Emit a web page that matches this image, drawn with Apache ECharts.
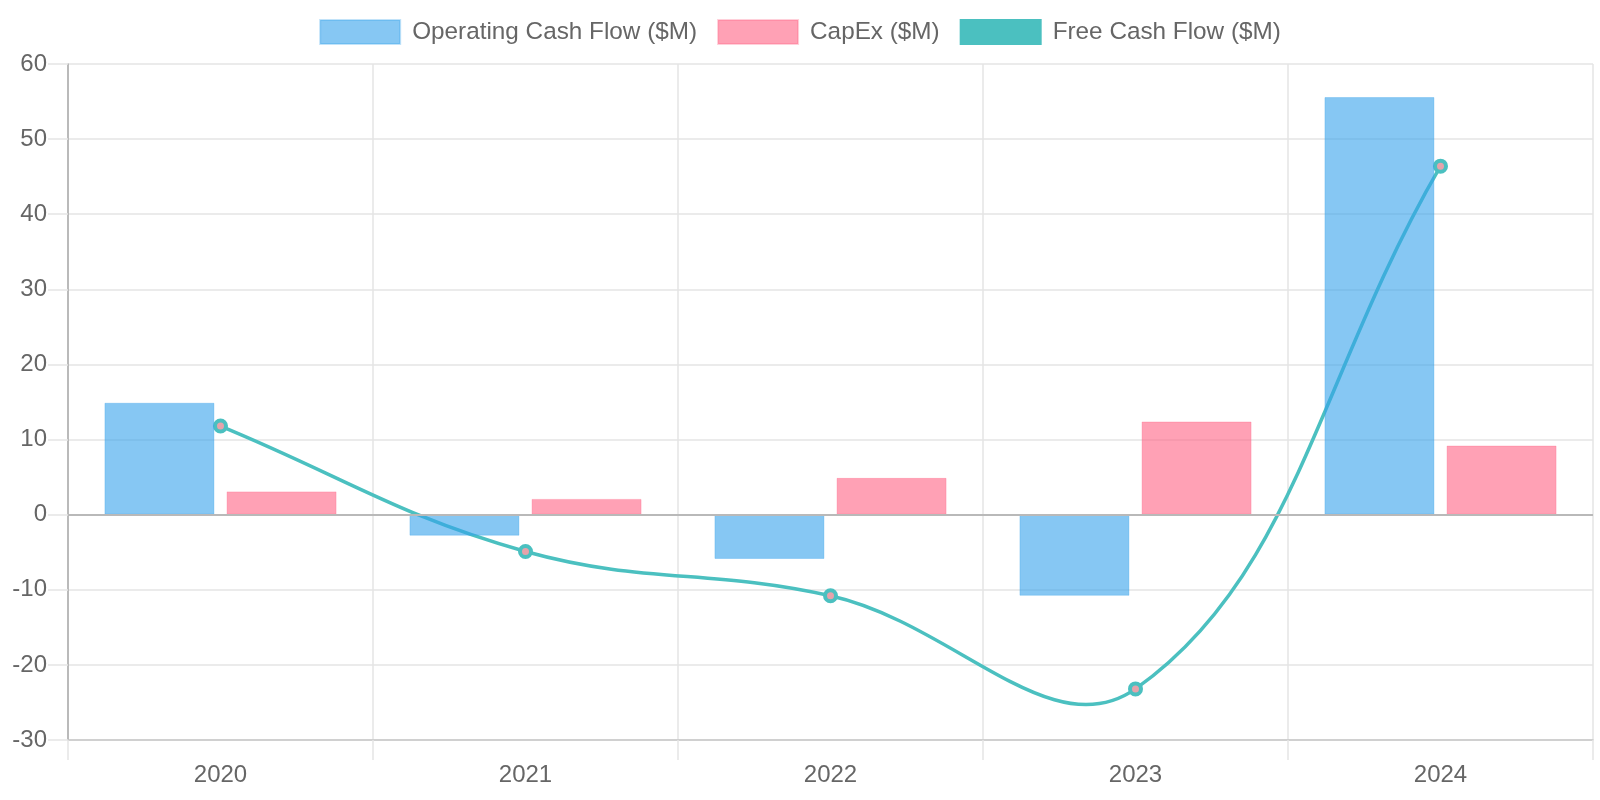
<!DOCTYPE html>
<html>
<head>
<meta charset="utf-8">
<style>
  html, body { margin: 0; padding: 0; background: #ffffff; }
  #chart { width: 1600px; height: 800px; }
</style>
<script src="https://cdn.jsdelivr.net/npm/echarts@6/dist/echarts.min.js"></script>
</head>
<body>
<div id="chart"></div>
<script>
const years = ['2020', '2021', '2022', '2023', '2024'];
const operatingCashFlow = [14.9, -2.8, -5.9, -10.8, 55.6];
const capEx = [3.1, 2.1, 4.9, 12.4, 9.2];
const freeCashFlow = [11.8, -4.9, -10.8, -23.2, 46.4];
const yTicks = { min: -30, max: 60, interval: 10 };

const FONT = '"Liberation Sans", Arial, Helvetica, sans-serif';
const TEXT = '#666666';
const GRID = '#e5e5e5';
const TEAL = '#4BC0C0';
const TENSION = 0.4;

// Cardinal spline through the points (same construction as a tension-0.4 spline)
function splinePath(pts) {
  const n = pts.length;
  const cps = pts.map((cur, i) => {
    const prev = pts[Math.max(0, i - 1)];
    const next = pts[Math.min(n - 1, i + 1)];
    const d01 = Math.hypot(cur[0] - prev[0], cur[1] - prev[1]);
    const d12 = Math.hypot(next[0] - cur[0], next[1] - cur[1]);
    let s01 = d01 / (d01 + d12); let s12 = d12 / (d01 + d12);
    if (!isFinite(s01)) s01 = 0; if (!isFinite(s12)) s12 = 0;
    const fa = TENSION * s01, fb = TENSION * s12;
    return {
      prev: [cur[0] - fa * (next[0] - prev[0]), cur[1] - fa * (next[1] - prev[1])],
      next: [cur[0] + fb * (next[0] - prev[0]), cur[1] + fb * (next[1] - prev[1])]
    };
  });
  let d = 'M' + pts[0][0] + ' ' + pts[0][1];
  for (let i = 1; i < n; i++) {
    const a = cps[i - 1].next, b = cps[i].prev, p = pts[i];
    d += ' C' + a[0] + ' ' + a[1] + ' ' + b[0] + ' ' + b[1] + ' ' + p[0] + ' ' + p[1];
  }
  return d;
}

const chart = echarts.init(document.getElementById('chart'), null, { renderer: 'canvas' });

chart.setOption({
  animation: false,
  backgroundColor: '#ffffff',
  textStyle: { fontFamily: FONT },
  legend: {
    top: 14,
    left: 'center',
    icon: 'rect',
    itemWidth: 80,
    itemHeight: 24,
    itemGap: 20,
    textStyle: { fontFamily: FONT, fontSize: 24.3, color: TEXT, padding: [0, 0, 0, 7] },
    data: [
      { name: 'Operating Cash Flow ($M)', itemStyle: { color: 'rgba(54,162,235,0.6)' } },
      { name: 'CapEx ($M)', itemStyle: { color: 'rgba(255,99,132,0.6)' } },
      { name: 'Free Cash Flow ($M)', itemStyle: { color: TEAL, borderColor: TEAL, borderWidth: 2 } }
    ]
  },
  grid: { left: 68, right: 7, top: 64, bottom: 60, containLabel: false },
  xAxis: {
    type: 'category',
    data: years,
    boundaryGap: true,
    axisLine: { show: true, onZero: false, lineStyle: { color: '#c8c8c8', width: 1.5 } },
    axisTick: { show: true, length: 20, interval: 0, lineStyle: { color: GRID, width: 1.5 } },
    axisLabel: { fontFamily: FONT, fontSize: 24, color: TEXT, margin: 23, interval: 0 },
    splitLine: { show: true, interval: 0, lineStyle: { color: GRID, width: 1.5 } }
  },
  yAxis: {
    type: 'value',
    min: yTicks.min,
    max: yTicks.max,
    interval: yTicks.interval,
    axisLine: { show: true, lineStyle: { color: '#aaaaaa', width: 1.5 } },
    axisTick: { show: true, length: 20, lineStyle: { color: GRID, width: 1.5 } },
    axisLabel: { fontFamily: FONT, fontSize: 24, color: TEXT, margin: 21 },
    splitLine: { show: true, lineStyle: { color: GRID, width: 1.5 } }
  },
  series: [
    {
      name: 'Operating Cash Flow ($M)',
      type: 'bar',
      data: operatingCashFlow,
      barWidth: 110,
      barGap: '11%',
      z: 3,
      itemStyle: { color: 'rgba(54,162,235,0.6)', borderColor: 'rgba(54,162,235,0.3)', borderWidth: 1 },
      markLine: {
        silent: true,
        symbol: 'none',
        label: { show: false },
        lineStyle: { color: '#b9b9b9', width: 2, type: 'solid' },
        data: [{ yAxis: 0 }],
        z: 5
      }
    },
    {
      name: 'CapEx ($M)',
      type: 'bar',
      data: capEx,
      barWidth: 110,
      barGap: '11%',
      z: 3,
      itemStyle: { color: 'rgba(255,99,132,0.6)', borderColor: 'rgba(255,99,132,0.3)', borderWidth: 1 }
    },
    {
      name: 'FCF curve',
      type: 'custom',
      z: 2,
      clip: false,
      silent: true,
      data: freeCashFlow.map((v, i) => [i, v]),
      encode: { x: 0, y: 1 },
      renderItem: function (params, api) {
        if (params.dataIndex !== 0) return null;
        const pts = freeCashFlow.map((v, i) => api.coord([i, v]));
        return {
          type: 'path',
          shape: { pathData: splinePath(pts) },
          style: { fill: null, stroke: TEAL, lineWidth: 3.5, lineJoin: 'round' }
        };
      }
    },
    {
      name: 'Free Cash Flow ($M)',
      type: 'line',
      data: freeCashFlow,
      z: 2,
      symbol: 'circle',
      symbolSize: 11,
      showAllSymbol: true,
      lineStyle: { width: 0, opacity: 0 },
      itemStyle: { color: '#e6a3ab', borderColor: TEAL, borderWidth: 4 }
    }
  ]
});
</script>
</body>
</html>
